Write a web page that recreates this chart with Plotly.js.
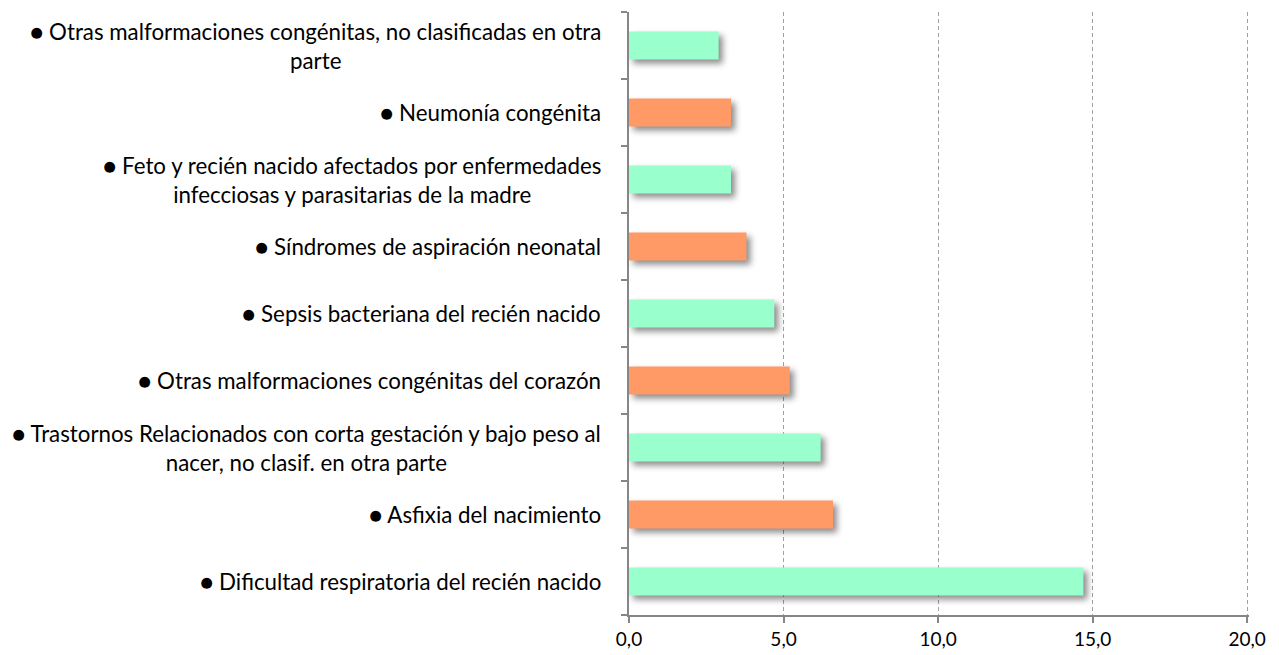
<!DOCTYPE html>
<html>
<head>
<meta charset="utf-8">
<script src="https://cdn.plot.ly/plotly-3.0.1.min.js"></script>
<style>
html,body{margin:0;padding:0;background:#fff;}
#chart{width:1279px;height:655px;}
.barlayer .point path{filter:drop-shadow(4px 4px 3px rgba(0,0,0,0.45));}
</style>
</head>
<body>
<div id="chart"></div>
<script>
// categories listed bottom to top
const categories = [
  "● Dificultad respiratoria del recién nacido",
  "● Asfixia del nacimiento",
  "● Trastornos Relacionados con corta gestación y bajo peso al<br>nacer, no clasif. en otra parte",
  "● Otras malformaciones congénitas del corazón",
  "● Sepsis bacteriana del recién nacido",
  "● Síndromes de aspiración neonatal",
  "● Feto y recién nacido afectados por enfermedades<br>infecciosas y parasitarias de la madre",
  "● Neumonía congénita",
  "● Otras malformaciones congénitas, no clasificadas en otra<br>parte"
];
const values = [14.7, 6.6, 6.2, 5.2, 4.7, 3.8, 3.3, 3.3, 2.9];
const barColors = ["#99FFCC", "#FF9966", "#99FFCC", "#FF9966", "#99FFCC", "#FF9966", "#99FFCC", "#FF9966", "#99FFCC"];
const xTicks = [0, 5, 10, 15, 20];

const FONT = "Lato, 'Open Sans', sans-serif";

const trace = {
  type: "bar",
  orientation: "h",
  x: values,
  y: categories.map((c, i) => i),
  marker: {color: barColors, line: {width: 0}},
  hoverinfo: "x"
};

const annotations = categories.map((c, i) => ({
  xref: "paper", yref: "y",
  x: 0, y: i,
  xanchor: "right", yanchor: "middle",
  xshift: -26,
  text: c,
  showarrow: false,
  align: "center",
  font: {family: FONT, size: 22.3, color: "#000"}
}));

const layout = {
  width: 1279, height: 655,
  margin: {l: 629, r: 30, t: 12, b: 40},
  paper_bgcolor: "#fff", plot_bgcolor: "#fff",
  bargap: 0.58,
  showlegend: false,
  separators: ",.",
  font: {family: FONT, size: 16, color: "#000"},
  xaxis: {
    range: [0, 20.06],
    tickvals: xTicks,
    tickformat: ".1f",
    showgrid: true, gridcolor: "#a0a0a0", griddash: "4px,3px", gridwidth: 1,
    zeroline: false,
    showline: true, linecolor: "#868686", linewidth: 2,
    ticks: "outside", ticklen: 6, tickcolor: "#868686", tickwidth: 2,
    tickfont: {family: FONT, size: 19, color: "#000"},
    fixedrange: true
  },
  yaxis: {
    type: "linear",
    range: [-0.5, 8.5],
    tickvals: [-0.5, 0.5, 1.5, 2.5, 3.5, 4.5, 5.5, 6.5, 7.5, 8.5],
    showticklabels: false,
    showgrid: false, zeroline: false,
    showline: true, linecolor: "#868686", linewidth: 2,
    ticks: "outside", ticklen: 6, tickcolor: "#868686", tickwidth: 2,
    fixedrange: true
  },
  annotations: annotations
};

Plotly.newPlot("chart", [trace], layout, {displayModeBar: false, staticPlot: true});
</script>
</body>
</html>
